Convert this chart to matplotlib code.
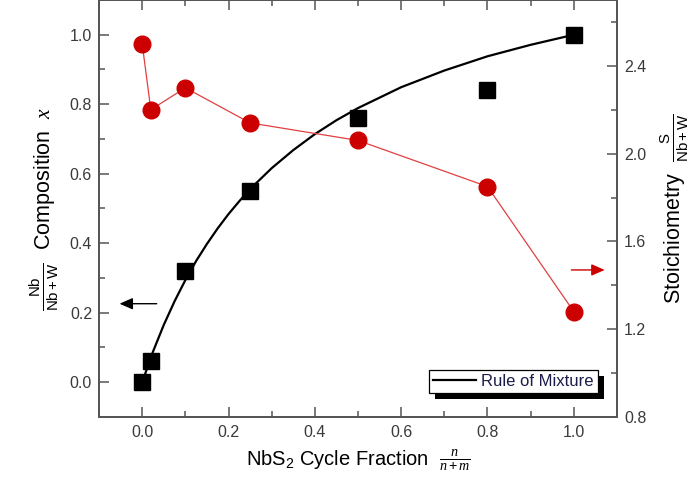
import matplotlib
matplotlib.use("Agg")
import matplotlib.pyplot as plt
from matplotlib.patches import Rectangle
from matplotlib.transforms import IdentityTransform
from matplotlib.ticker import MultipleLocator, FormatStrFormatter

plt.rcParams['font.family'] = ['Liberation Sans', 'DejaVu Sans']
plt.rcParams['mathtext.fontset'] = 'custom'
plt.rcParams['mathtext.rm'] = 'Liberation Sans'
plt.rcParams['mathtext.sf'] = 'Liberation Sans'
plt.rcParams['mathtext.it'] = 'Liberation Serif:italic'

# measured points
cycle_frac = [0.0, 0.02, 0.1, 0.25, 0.5, 0.8, 1.0]
nb_comp = [0.0, 0.06, 0.32, 0.55, 0.76, 0.84, 1.0]
stoich = [2.5, 2.2, 2.3, 2.14, 2.06, 1.85, 1.28]

# rule of mixture curve
rom_x = [0.0, 0.025, 0.05, 0.075, 0.1, 0.125, 0.15, 0.175, 0.2, 0.225, 0.25, 0.3, 0.35,
         0.4, 0.45, 0.5, 0.6, 0.7, 0.8, 0.9, 1.0]
rom_y = [0.0, 0.088, 0.165, 0.233, 0.294, 0.349, 0.398, 0.443, 0.484, 0.521, 0.556, 0.616, 0.668,
         0.714, 0.754, 0.789, 0.849, 0.897, 0.938, 0.971, 1.0]

tick_col = '#3a3a3a'
spine_col = '#555555'

fig = plt.figure(figsize=(6.94, 4.97), dpi=100)
ax = fig.add_axes([0.1427, 0.161, 0.7463, 0.839])
ax2 = ax.twinx()

ax.plot(rom_x, rom_y, color='black', lw=1.6, zorder=2, label='Rule of Mixture')
ax.plot(cycle_frac, nb_comp, ls='none', marker='s', ms=11, color='black', zorder=3)

ax2.plot(cycle_frac, stoich, color='#e04040', lw=0.9, marker='o', ms=12,
         markerfacecolor='#cc0000', markeredgecolor='#cc0000', zorder=3)

ax.set_xlim(-0.1, 1.1)
ax.set_ylim(-0.1, 1.1)
ax2.set_ylim(0.8, 2.7)

ax.xaxis.set_major_locator(MultipleLocator(0.2))
ax.xaxis.set_minor_locator(MultipleLocator(0.1))
ax.yaxis.set_major_locator(MultipleLocator(0.2))
ax.yaxis.set_minor_locator(MultipleLocator(0.1))
ax2.yaxis.set_major_locator(MultipleLocator(0.4))
ax2.yaxis.set_minor_locator(MultipleLocator(0.2))

ax.tick_params(axis='x', which='both', direction='in', top=True, colors=spine_col,
               labelcolor=tick_col, labelsize=11.5, pad=6)
ax.tick_params(axis='y', which='both', direction='in', right=False, colors=spine_col,
               labelcolor=tick_col, labelsize=11.5, pad=5)
ax2.tick_params(axis='y', which='both', direction='in', colors=spine_col,
                labelcolor=tick_col, labelsize=11.5, pad=5)
for a in (ax, ax2):
    a.tick_params(which='major', length=7, width=1.1)
    a.tick_params(which='minor', length=4, width=1.1)
    for s in a.spines.values():
        s.set_color(spine_col)
        s.set_linewidth(1.3)

ax.xaxis.set_major_formatter(FormatStrFormatter('%.1f'))
ax.yaxis.set_major_formatter(FormatStrFormatter('%.1f'))
ax2.yaxis.set_major_formatter(FormatStrFormatter('%.1f'))

ax.set_xlabel(r'NbS$_\mathrm{2}$ Cycle Fraction  $\frac{n}{n+m}$', fontsize=14.5, labelpad=5)
ax.set_ylabel(r'$\frac{\mathrm{Nb}}{\mathrm{Nb+W}}$  Composition  $x$', fontsize=15.5, labelpad=6)
ax2.set_ylabel(r'Stoichiometry  $\frac{\mathrm{S}}{\mathrm{Nb+W}}$', fontsize=15.5, labelpad=9)

# direction arrows
ax.annotate('', xy=(-0.059, 0.226), xytext=(0.04, 0.226),
            arrowprops=dict(arrowstyle='-|>,head_length=0.8,head_width=0.35', color='black', lw=1.0))
ax2.annotate('', xy=(1.078, 1.47), xytext=(0.988, 1.47),
             arrowprops=dict(arrowstyle='-|>,head_length=0.8,head_width=0.35', color='#cc0000', lw=1.0))

h, l = ax.get_legend_handles_labels()
leg = ax2.legend(h, l, loc='lower right', bbox_to_anchor=(0.963, 0.057), fontsize=12,
                 frameon=True, fancybox=False, edgecolor='black', framealpha=1,
                 handlelength=2.6, handletextpad=0.3, borderpad=0.25, borderaxespad=0)
leg.get_frame().set_linewidth(0.9)
for t in leg.get_texts():
    t.set_color('#1c1c4a')

fig.canvas.draw()
bb = leg.get_window_extent()
shadow = Rectangle((bb.x0 + 6, bb.y0 - 6), bb.width, bb.height, transform=IdentityTransform(),
                   facecolor='black', edgecolor='none', zorder=leg.get_zorder() - 0.1, clip_on=False)
ax2.add_artist(shadow)

fig.savefig('out.png', dpi=100)
